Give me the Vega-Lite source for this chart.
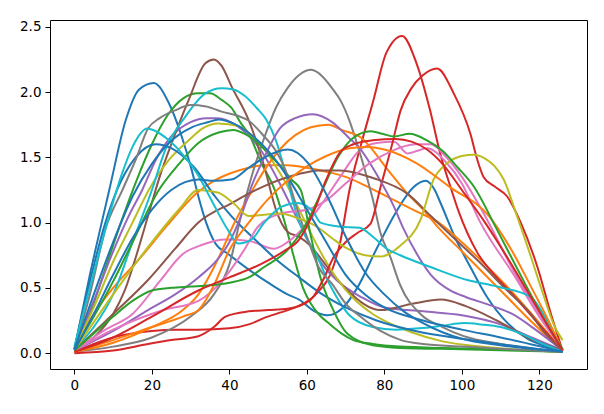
{
  "$schema": "https://vega.github.io/schema/vega-lite/v6.json",
  "width": 537,
  "height": 349,
  "autosize": {"type": "none"},
  "padding": {"left": 50, "top": 20, "right": 17, "bottom": 45},
  "background": "white",
  "config": {
    "view": {"stroke": "black", "strokeWidth": 1},
    "axis": {"domain": false, "grid": false, "ticks": true, "tickSize": 5, "tickWidth": 1, "tickColor": "black", "labelColor": "black", "labelFont": "DejaVu Sans", "labelFontSize": 13.5, "labelPadding": 4, "title": null}
  },
  "data": {"values": [
    {"s":"a01","x":[0,4,9,13.3,16.7,20.5,24.3,27.7,30.3,32,34,36.4,39.7,45,50,55,58,62,65.3,69,73,78,83,87.5,90.6,93,94.5,98.5,102.2,106.5,111.8,117,122,126],"y":[0.03,0.6,1.25,1.79,2.02,2.07,1.92,1.66,1.4,1.2,1.0,0.84,0.76,0.64,0.54,0.45,0.41,0.32,0.29,0.34,0.5,0.8,1.08,1.27,1.32,1.25,1.15,0.87,0.66,0.43,0.23,0.11,0.05,0.01]},
    {"s":"a02","x":[0,5,10,16.7,24,31.3,36,40.5,45,49,55,60,65,70,76,82,88,94,100,106,112,118,122,126],"y":[0.03,0.3,0.5,0.72,0.98,1.22,1.32,1.38,1.42,1.44,1.44,1.42,1.39,1.35,1.27,1.18,1.09,1.0,0.85,0.68,0.5,0.3,0.16,0.02]},
    {"s":"a03","x":[0,4,8,12,16,20,24,28,32,35,38,40.5,43,45,48.2,51.7,54.3,56.8,59,61,63,66,69,72,77,84,95,110,126],"y":[0.03,0.3,0.65,1.0,1.32,1.6,1.82,1.95,1.99,1.99,1.94,1.88,1.76,1.68,1.46,1.25,1.0,0.72,0.5,0.38,0.3,0.22,0.15,0.1,0.07,0.05,0.04,0.03,0.01]},
    {"s":"a04","x":[0,5,10,15,20,26,32,40,45,49,53,57,62.6,66.8,68.6,71,74,77.2,80.5,84.6,88.3,91.8,94.4,97,99,104,109,114,119,126],"y":[0.01,0.07,0.12,0.15,0.17,0.18,0.18,0.19,0.22,0.27,0.31,0.35,0.46,0.66,0.85,1.25,1.6,1.94,2.3,2.43,2.22,1.86,1.53,1.28,1.1,0.77,0.58,0.42,0.25,0.02]},
    {"s":"a05","x":[0,5,10,14,17.5,21,25,30,34,37,42,48,53,58,63,68,74,80,90,100,110,118,126],"y":[0.03,0.4,0.78,1.05,1.25,1.48,1.66,1.77,1.8,1.8,1.74,1.56,1.3,1.0,0.72,0.55,0.43,0.35,0.32,0.29,0.22,0.12,0.02]},
    {"s":"a06","x":[0,5,10,13,16,19,22,25,29.5,33.8,36,38,40.6,44.9,49,52,55,58,61,64.5,70.5,79,87.5,94.5,101,109,117,126],"y":[0.02,0.12,0.3,0.48,0.75,1.05,1.35,1.6,1.94,2.22,2.25,2.2,2.04,1.79,1.43,1.1,0.93,0.89,0.82,0.69,0.48,0.33,0.38,0.41,0.36,0.25,0.12,0.02]},
    {"s":"a07","x":[0,8,15,22,28,33,39,45,51.5,55,60,64,68.6,73.8,78,82.5,86,88.5,91,96,100,104.8,113.4,120,126],"y":[0.02,0.18,0.3,0.55,0.76,0.83,0.87,0.86,0.8,0.85,0.99,1.15,1.35,1.56,1.61,1.62,1.53,1.55,1.57,1.46,1.3,1.0,0.6,0.28,0.03]},
    {"s":"a08","x":[0,10,20,30,36,40,43,46,49,52,55,58,61.1,64,66.5,68.6,71,73,75,77,79,81.5,84.1,89.3,95,100.5,110,126],"y":[0.01,0.05,0.12,0.28,0.45,0.68,1.05,1.38,1.65,1.88,2.03,2.13,2.17,2.12,2.03,1.94,1.78,1.6,1.4,1.18,0.92,0.74,0.52,0.3,0.2,0.13,0.07,0.01]},
    {"s":"a09","x":[0,5,10,15,19.2,24.4,29.5,33,37.2,42.3,46,49.1,52,55,58,61,64,68,72,77,82,87,95,105,126],"y":[0.03,0.35,0.7,1.0,1.25,1.48,1.63,1.72,1.76,1.74,1.66,1.56,1.43,1.28,1.1,0.92,0.75,0.56,0.42,0.3,0.22,0.16,0.09,0.05,0.01]},
    {"s":"a10","x":[0,5,10,15,20,23.5,28.6,33.8,38,41,44,47,49.5,52,54.5,57,59.5,62,66,71,77,83,89,95,100.5,105,110,116,121,126],"y":[0.03,0.2,0.45,0.85,1.25,1.56,1.81,1.99,2.03,2.02,1.97,1.88,1.79,1.63,1.38,1.1,0.9,0.78,0.52,0.29,0.2,0.18,0.19,0.21,0.23,0.22,0.2,0.14,0.07,0.01]},
    {"s":"a11","x":[0,4,8,11,15.8,21,25,31,36.3,40.5,46.6,52,58,64,70,78,88,100,112,126],"y":[0.03,0.55,1.0,1.25,1.5,1.6,1.57,1.42,1.2,1.05,0.87,0.72,0.58,0.45,0.35,0.25,0.17,0.11,0.06,0.01]},
    {"s":"a12","x":[0,10,20,28,32,35,38,41,45,49,53,57,61,65.5,69,74,81,86,90,94,100,106,112,118,126],"y":[0.01,0.08,0.2,0.33,0.45,0.6,0.78,0.98,1.2,1.4,1.56,1.67,1.73,1.75,1.71,1.65,1.4,1.22,1.1,0.96,0.78,0.6,0.42,0.24,0.02]},
    {"s":"a13","x":[0,5,10,15,21.8,27,32,37.2,41,44,47.4,50,53.3,56,58.4,61,63.5,66.5,70.4,77,84,100,126],"y":[0.03,0.28,0.55,0.85,1.25,1.45,1.61,1.69,1.71,1.68,1.61,1.53,1.43,1.33,1.25,0.9,0.58,0.35,0.15,0.06,0.04,0.03,0.01]},
    {"s":"a14","x":[0,10,19,25,32,36,39,45,50,55,61,64,67,70,73,76.4,79,82,84.2,87,90,93.6,97.9,102.2,104,105.6,108.3,111.7,115.2,119.5,123,126],"y":[0.0,0.02,0.07,0.1,0.13,0.2,0.28,0.32,0.33,0.34,0.41,0.55,0.74,0.85,0.92,0.99,1.27,1.6,1.86,2.03,2.13,2.18,1.99,1.68,1.48,1.35,1.28,1.2,1.0,0.66,0.3,0.02]},
    {"s":"a15","x":[0,10,19,26,32,37,40,43,46,49,53,57,61.5,66.5,70.5,73.6,78,82.5,85,88,92,97,101,107,113,119,126],"y":[0.02,0.17,0.33,0.45,0.58,0.72,0.85,1.05,1.3,1.5,1.72,1.8,1.83,1.77,1.66,1.57,1.37,1.12,0.95,0.78,0.6,0.48,0.43,0.37,0.3,0.18,0.02]},
    {"s":"a16","x":[0,10,19,26,32,40.6,49,57.7,63,68.6,77.2,86,92,98,104.8,111,117.8,121,126],"y":[0.02,0.3,0.56,0.8,1.0,1.15,1.28,1.37,1.4,1.4,1.34,1.22,1.05,0.88,0.69,0.5,0.3,0.17,0.02]},
    {"s":"a17","x":[0,10,23,32,38,44,47.4,53.4,60.2,65,70,76,82,88,92,96,100,106,113,120,126],"y":[0.02,0.18,0.33,0.4,0.55,0.8,0.97,1.07,1.1,1.17,1.3,1.45,1.55,1.6,1.6,1.5,1.35,1.05,0.65,0.3,0.03]},
    {"s":"a18","x":[0,4,8,12.4,15.8,19,22,26,30,34,38,42,45,49,52,54.5,57,60.5,63,66.5,70,73.8,79,84.3,90,100,126],"y":[0.03,0.45,0.95,1.25,1.48,1.72,1.8,1.86,1.9,1.89,1.85,1.82,1.78,1.66,1.55,1.4,1.15,0.85,0.66,0.53,0.38,0.28,0.17,0.1,0.07,0.05,0.01]},
    {"s":"a19","x":[0,10,20,27,32,37,41,45,49,53,58,62.5,66.5,70.5,75,79,84,89.3,92.7,96,100,103,106,108.5,110.8,114,117.8,121,124,126],"y":[0.02,0.45,0.85,1.1,1.25,1.23,1.15,1.05,1.06,1.07,1.03,0.97,0.88,0.8,0.75,0.74,0.82,1.02,1.33,1.45,1.51,1.52,1.49,1.43,1.33,1.07,0.74,0.45,0.2,0.1]},
    {"s":"a20","x":[0,4,8,12,15,18.8,21,24.4,28.6,32,35.4,39.7,42.3,45.7,49,53.4,57.7,61.9,63.5,68.4,73.6,77.1,80.6,84.1,91.9,101.4,109.1,117.8,122,126],"y":[0.05,0.5,0.95,1.35,1.58,1.72,1.7,1.63,1.5,1.36,1.17,0.94,0.84,0.87,1.0,1.12,1.15,1.07,1.0,0.97,0.96,0.89,0.8,0.75,0.66,0.56,0.51,0.43,0.25,0.02]},
    {"s":"a21","x":[0,5,10,15,20,24.4,30.3,34.6,37.2,41,44.9,50,55,60,65,70,75,80,90,100,110,126],"y":[0.03,0.45,0.85,1.2,1.45,1.61,1.73,1.77,1.79,1.76,1.69,1.55,1.35,1.1,0.85,0.6,0.45,0.35,0.25,0.18,0.12,0.01]},
    {"s":"a22","x":[0,10,20,28,32,36,40,45,50,55,60,65,71,76,80,88,97,107,113,118,122,126],"y":[0.01,0.1,0.2,0.28,0.33,0.52,0.79,1.0,1.18,1.32,1.43,1.51,1.57,1.58,1.56,1.46,1.27,1.05,0.78,0.5,0.27,0.02]},
    {"s":"a23","x":[0,5,10,15,20,25,30,35,40,45,49,55,60,64,68,72,76.5,79.5,82.5,86.5,91,95,99,103,109,116,122,126],"y":[0.02,0.15,0.28,0.4,0.48,0.5,0.51,0.52,0.54,0.58,0.66,0.79,1.0,1.25,1.5,1.65,1.7,1.68,1.66,1.68,1.63,1.55,1.42,1.28,0.95,0.55,0.22,0.03]},
    {"s":"a24","x":[0,10,20,32,40,48,54,58,62,65,68.6,72,77,83,87,91,95,100,106,112,118,122,126],"y":[0.01,0.12,0.28,0.48,0.58,0.68,0.78,0.87,1.1,1.33,1.54,1.6,1.63,1.64,1.62,1.56,1.45,1.25,1.0,0.72,0.42,0.22,0.02]},
    {"s":"a25","x":[0,5,10,15,20,25,32,36,40.5,45,49.1,55.1,60.2,65.3,70.4,75,80,85,90,95,100,110,126],"y":[0.02,0.3,0.6,0.88,1.1,1.25,1.33,1.32,1.33,1.42,1.5,1.56,1.46,1.2,0.87,0.62,0.45,0.32,0.23,0.16,0.11,0.06,0.01]}
  ]},
  "transform": [{"flatten": ["x", "y"]}],
  "mark": {"type": "line", "interpolate": "monotone", "strokeWidth": 2, "clip": true},
  "encoding": {
    "x": {"field": "x", "type": "quantitative", "scale": {"domain": [-6.3, 132.3], "nice": false, "zero": false}, "axis": {"values": [0, 20, 40, 60, 80, 100, 120]}},
    "y": {"field": "y", "type": "quantitative", "scale": {"domain": [-0.1215, 2.552], "nice": false, "zero": false}, "axis": {"values": [0, 0.5, 1, 1.5, 2, 2.5], "format": ".1f"}},
    "color": {"field": "s", "type": "nominal", "legend": null, "scale": {"domain": ["a01","a02","a03","a04","a05","a06","a07","a08","a09","a10","a11","a12","a13","a14","a15","a16","a17","a18","a19","a20","a21","a22","a23","a24","a25"], "range": ["#1f77b4","#ff7f0e","#2ca02c","#d62728","#9467bd","#8c564b","#e377c2","#7f7f7f","#bcbd22","#17becf","#1f77b4","#ff7f0e","#2ca02c","#d62728","#9467bd","#8c564b","#e377c2","#7f7f7f","#bcbd22","#17becf","#1f77b4","#ff7f0e","#2ca02c","#d62728","#1f77b4"]}}
  }
}
